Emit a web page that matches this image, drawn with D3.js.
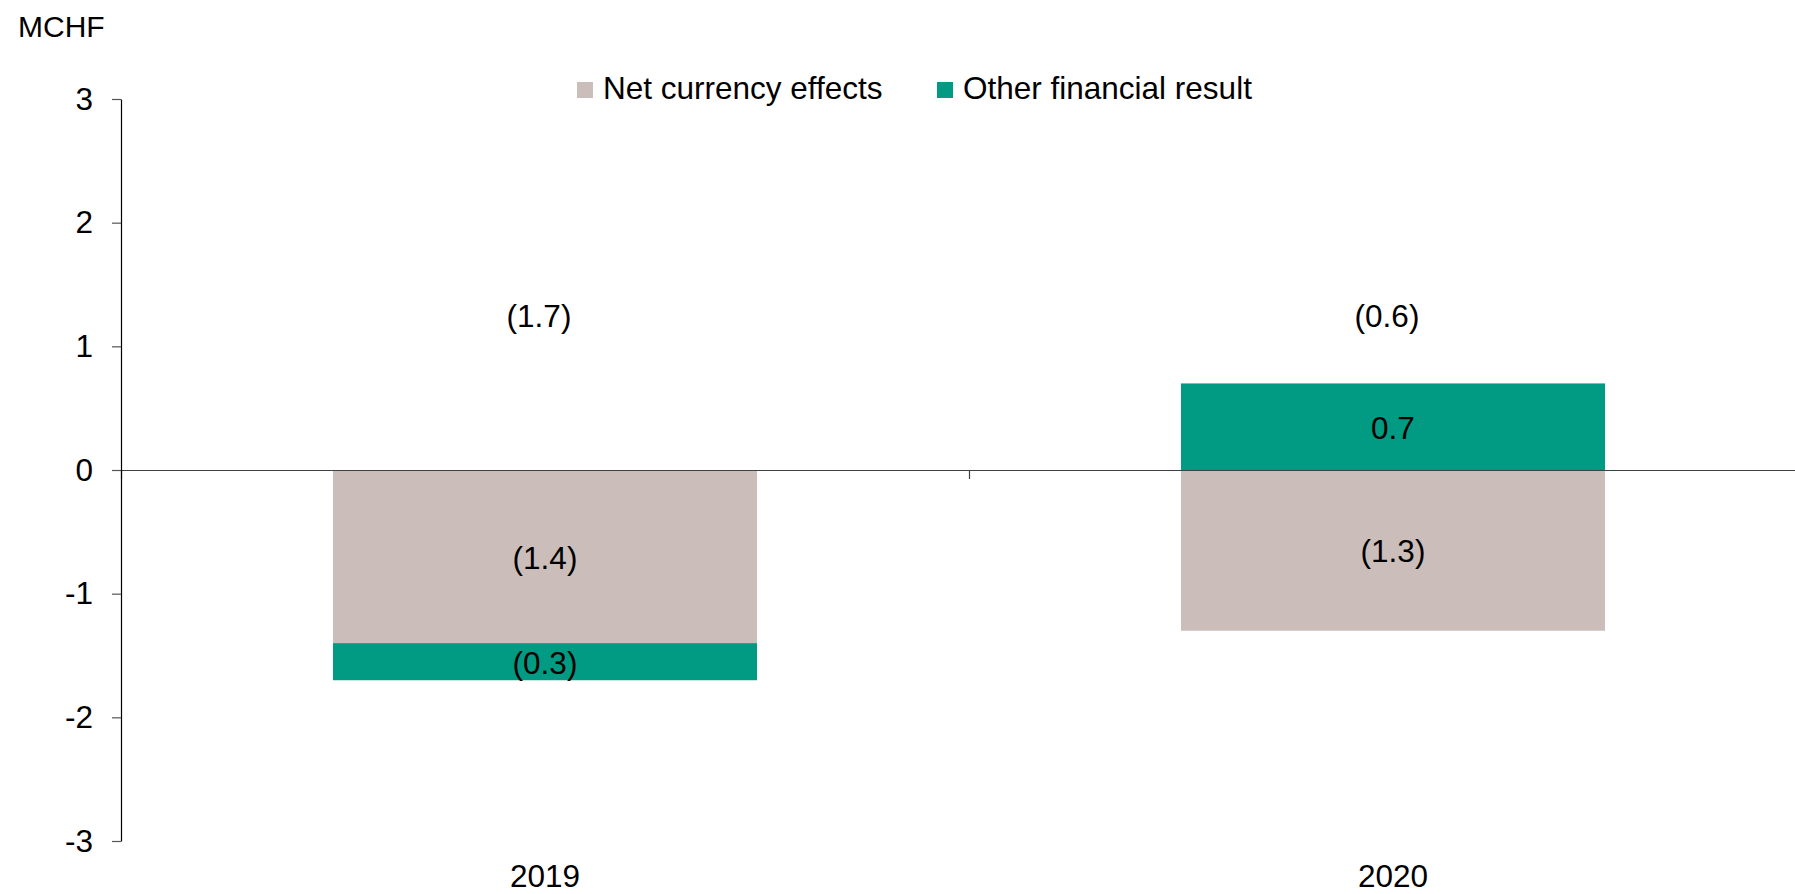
<!DOCTYPE html>
<html>
<head>
<meta charset="utf-8">
<script src="https://cdn.jsdelivr.net/npm/d3@7"></script>
<style>
  html, body { margin: 0; padding: 0; background: #fff; }
  svg { display: block; font-family: "Liberation Sans", Arial, sans-serif; }
</style>
</head>
<body>
<svg id="chart" width="1795" height="894"></svg>
<script>
// Financial result breakdown, MCHF
const years = ["2019", "2020"];
const seriesNames = ["Net currency effects", "Other financial result"];
const netCurrencyEffects = [-1.4, -1.3];
const otherFinancialResult = [-0.3, 0.7];
const yTicks = [-3, -2, -1, 0, 1, 2, 3];
const seriesColors = ["#cbbeba", "#009b82"];

(function () {
  const svg = d3.select("#chart");
  const plotLeft = 121, plotTop = 99, plotBottom = 841;
  const bandRight = 1817; // plot area continues past the right edge

  const rows = years.map((yr, i) => ({
    year: yr,
    [seriesNames[0]]: netCurrencyEffects[i],
    [seriesNames[1]]: otherFinancialResult[i]
  }));
  const totals = rows.map(r => d3.sum(seriesNames, k => r[k]));

  const x = d3.scaleBand().domain(years).range([plotLeft, bandRight]).paddingInner(0.5).paddingOuter(0.25);
  const y = d3.scaleLinear().domain([-3, 3]).range([plotBottom, plotTop]);
  const color = d3.scaleOrdinal().domain(seriesNames).range(seriesColors);

  const fmt = v => {
    const s = Math.abs(v).toFixed(1);
    return v < 0 ? "(" + s + ")" : s;
  };
  const FS = 31.5;

  // stacked bars (diverging around zero)
  const stacked = d3.stack().keys(seriesNames).offset(d3.stackOffsetDiverging)(rows);

  const gBars = svg.append("g");
  stacked.forEach(layer => {
    gBars.selectAll(null).data(layer).join("rect")
      .attr("x", d => x(d.data.year))
      .attr("width", x.bandwidth())
      .attr("y", d => y(Math.max(d[0], d[1])))
      .attr("height", d => Math.abs(y(d[0]) - y(d[1])))
      .attr("fill", color(layer.key));
  });

  // segment value labels
  stacked.forEach(layer => {
    gBars.selectAll(null).data(layer).join("text")
      .attr("x", d => x(d.data.year) + x.bandwidth() / 2)
      .attr("y", d => (y(d[0]) + y(d[1])) / 2 + 12)
      .attr("text-anchor", "middle")
      .attr("font-size", FS)
      .attr("fill", "#000")
      .text(d => fmt(d.data[layer.key]));
  });

  // total labels above the bars
  svg.append("g").selectAll("text").data(rows).join("text")
    .attr("x", d => x(d.year) + x.bandwidth() / 2 - 6)
    .attr("y", y(1.25) + 12)
    .attr("text-anchor", "middle")
    .attr("font-size", FS)
    .attr("fill", "#000")
    .text((d, i) => fmt(totals[i]));

  // zero line with category separators
  const sep = d3.scaleLinear().domain([0, years.length]).range([plotLeft, bandRight]);
  const gZero = svg.append("g").attr("transform", `translate(0,${y(0)})`)
    .call(d3.axisBottom(sep).tickValues(d3.range(years.length + 1)).tickSize(9).tickSizeOuter(0).tickFormat(""));
  gZero.selectAll("path, line").attr("stroke", "#404040").attr("stroke-width", 1.2);

  // y axis (plain hyphen for negatives)
  const gY = svg.append("g").attr("transform", `translate(${plotLeft},0)`)
    .call(d3.axisLeft(y).tickValues(yTicks).tickSize(9).tickSizeOuter(0).tickPadding(19).tickFormat(d => String(d)));
  gY.select(".domain").attr("stroke", "#000").attr("stroke-width", 1.2);
  gY.selectAll(".tick line").attr("stroke", "#555").attr("stroke-width", 1.2);
  gY.selectAll("text").attr("font-size", FS).attr("font-family", null).attr("fill", "#000");

  // category labels along the bottom
  const gX = svg.append("g").attr("transform", `translate(0,${plotBottom})`)
    .call(d3.axisBottom(x).tickSize(0).tickPadding(24));
  gX.select(".domain").remove();
  gX.selectAll("text").attr("font-size", FS).attr("font-family", null).attr("fill", "#000");

  // unit label
  svg.append("text").attr("x", 18).attr("y", 37).attr("font-size", 30).attr("fill", "#000").text("MCHF");

  // legend
  const legendX = [577, 937];
  const gLeg = svg.append("g");
  seriesNames.forEach((name, i) => {
    gLeg.append("rect").attr("x", legendX[i]).attr("y", 82).attr("width", 16).attr("height", 16).attr("fill", color(name));
    gLeg.append("text").attr("x", legendX[i] + 26).attr("y", 99).attr("font-size", FS).attr("fill", "#000").text(name);
  });
})();
</script>
</body>
</html>
